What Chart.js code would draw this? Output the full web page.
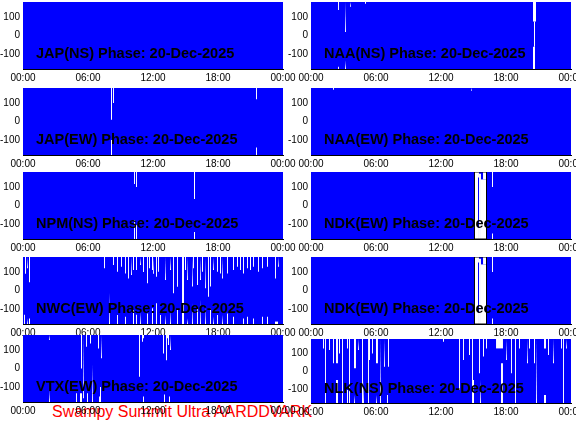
<!DOCTYPE html>
<html><head><meta charset="utf-8">
<script src="https://cdn.jsdelivr.net/npm/chart.js@4.4.1/dist/chart.umd.min.js"></script>
<style>
html,body{margin:0;padding:0;background:#fff}
body{width:576px;height:432px;position:relative;overflow:hidden;font-family:"Liberation Sans",Arial,sans-serif}
.cv{position:absolute}
#foot{position:absolute;left:52px;top:403px;color:#ff0000;font-size:16px;line-height:18px;white-space:nowrap;font-family:"Liberation Sans",Arial,sans-serif}
</style></head>
<body>
<div id="foot">Swampy Summit Ultra AARDDVARK</div>
<script>
// ---- data ----
const timeTickLabels = ['00:00','06:00','12:00','18:00','00:00'];
const phaseTicks = [-100, 0, 100];
const dayHours = [0, 24];
const phaseRange = [-180, 180];

const titles = [
  'JAP(NS) Phase: 20-Dec-2025', 'NAA(NS) Phase: 20-Dec-2025',
  'JAP(EW) Phase: 20-Dec-2025', 'NAA(EW) Phase: 20-Dec-2025',
  'NPM(NS) Phase: 20-Dec-2025', 'NDK(EW) Phase: 20-Dec-2025',
  'NWC(EW) Phase: 20-Dec-2025', 'NDK(EW) Phase: 20-Dec-2025',
  'VTX(EW) Phase: 20-Dec-2025', 'NLK(NS) Phase: 20-Dec-2025'
];

// quiet (non-noisy) intervals per panel: [startHour, endHour, lowDeg, highDeg]
const quietJAPNS = [];
const quietNAANS = [
  [2.49,2.58,137,180],[2.49,2.58,-180,-168],
  [3.14,3.23,19,180],[3.14,3.23,-180,-135],
  [3.60,3.69,155,180],[4.98,5.08,170,180],
  [20.49,20.77,75,180],[20.58,20.68,-60,75],[20.49,20.68,-180,-60]
];
const quietJAPEW = [
  [8.12,8.22,10,180],[8.31,8.40,100,180],[8.12,8.22,-180,-100],
  [21.51,21.60,120,180],[21.51,21.60,-180,-140]
];
const quietNAAEW = [[2.03,2.12,170,180],[14.77,14.86,165,180]];
const quietNPMNS = [
  [10.25,10.34,116,180],[10.25,10.34,-180,-78],
  [10.43,10.52,100,180],[10.43,10.52,-180,-105],
  [15.78,15.88,35,180],[15.78,15.88,-180,-142]
];
const quietNDKEW1 = [
  [15.05,15.42,-180,180],[15.42,15.51,150,180],[15.42,15.51,-180,-120],
  [15.51,15.69,-180,170],[15.69,16.25,-180,140],[15.88,16.25,140,180],
  [16.71,16.80,100,180],[16.71,16.80,-180,-150]
];
const quietNWCEW = [
  [0.09,0.18,-180,-130],[0.18,0.28,90,180],[0.37,0.46,120,180],[0.37,0.46,-180,-150],[0.55,0.65,45,180],[0.55,0.65,-180,-150],
  [7.48,7.57,119,180],[7.94,8.03,-180,-15],[8.31,8.40,137,180],[8.68,8.77,101,180],[8.68,8.77,-180,-132],[9.05,9.14,128,180],
  [9.42,9.51,92,180],[9.42,9.51,-180,-141],[9.69,9.78,65,180],[9.97,10.06,83,180],[10.15,10.25,110,180],[10.15,10.25,-180,-105],
  [10.43,10.52,110,180],[10.43,10.52,-180,-130],[10.80,10.89,137,180],[10.80,10.89,-180,-114],[11.08,11.17,100,180],[11.45,11.54,39,180],
  [11.45,11.54,-180,-123],[11.63,11.72,120,180],[11.91,12.0,110,180],[11.91,12.0,-180,-96],[12.0,12.09,90,180],[12.28,12.37,74,180],
  [12.28,12.37,-180,-69],[12.46,12.55,101,180],[12.65,12.74,-180,-132],[13.11,13.20,56,180],[13.11,13.20,-180,-132],[13.57,13.66,110,180],
  [13.57,13.66,-180,-105],[13.85,13.94,-15,180],[14.22,14.31,20,180],[14.22,14.31,-180,-105],[14.68,14.86,-180,180],[14.95,15.05,110,180],
  [15.14,15.23,56,180],[15.14,15.23,-180,-150],[15.60,15.69,21,180],[15.60,15.69,-180,-69],[15.69,15.78,120,180],[16.06,16.15,30,180],
  [16.06,16.15,-180,-87],[16.34,16.43,56,180],[16.34,16.43,-180,-51],[16.52,16.62,101,180],[16.80,16.89,12,180],[16.80,16.89,-180,-87],
  [17.08,17.17,-33,180],[17.26,17.35,21,180],[17.26,17.35,-180,-96],[17.54,17.63,110,180],[17.54,17.63,-180,-141],[17.91,18.0,101,180],
  [17.91,18.0,-180,-132],[18.18,18.28,92,180],[18.37,18.46,65,180],[18.37,18.46,-180,-132],[18.83,18.92,92,180],[18.83,18.92,-180,-123],
  [19.38,19.48,110,180],[19.38,19.48,-180,-141],[19.75,19.85,128,180],[20.03,20.12,110,180],[20.31,20.40,92,180],[20.31,20.40,-180,-150],
  [20.68,20.77,120,180],[20.68,20.77,-180,-141],[20.95,21.05,110,180],[21.23,21.32,128,180],[21.23,21.32,-180,-150],[21.69,21.78,101,180],
  [22.06,22.15,119,180],[22.06,22.15,-180,-141],[22.52,22.62,128,180],[22.52,22.62,-180,-141],[23.26,23.35,65,180],[23.26,23.54,-180,-167],
  [23.54,23.63,128,180]
];
const quietNDKEW2 = [
  [15.05,15.42,-180,180],[15.42,15.51,150,180],[15.42,15.51,-180,-120],
  [15.51,15.69,-180,170],[15.69,16.25,-180,140],[15.88,16.25,140,180],
  [16.71,16.80,100,180],[16.71,16.80,-180,-150]
];
const quietVTXEW = [
  [2.40,2.49,153,180],[2.40,2.49,-180,-115],[4.89,4.98,-180,-133],[5.35,5.45,0,180],[5.26,5.45,-180,-133],[5.54,5.63,-160,180],
  [5.82,5.91,117,180],[5.91,6.0,-180,-133],[6.18,6.28,135,180],[6.37,6.46,-180,20],[6.92,7.02,108,180],[7.02,7.11,-180,-150],
  [7.20,7.29,55,180],[7.11,7.20,-180,-100],[10.71,10.80,-44,180],[10.98,11.08,144,180],[11.08,11.17,162,180],[11.08,11.17,-180,-150],
  [12.92,13.02,81,180],[13.20,13.29,45,180],[13.29,13.38,162,180],[13.38,13.48,126,180],[13.57,13.66,99,180],
  [13.02,13.11,-180,-140],[13.48,13.57,-180,-150]
];
const quietNLKNS = [
  [1.11,1.20,127,180],[1.29,1.38,-180,180],[1.66,1.75,118,180],[2.03,2.12,43,180],[2.31,2.49,43,180],[2.31,2.49,-180,-51],
  [2.58,2.68,99,180],[2.86,2.95,-180,180],[3.32,3.42,127,180],[3.32,3.42,-180,-107],[3.51,3.60,-180,180],[3.97,4.15,15,180],
  [3.97,4.06,-180,-135],[4.34,4.43,118,180],[4.71,4.80,-180,180],[4.80,4.89,-180,-51],[5.26,5.35,-180,180],[5.35,5.45,62,180],
  [5.63,5.72,99,180],[6.0,6.18,43,180],[6.0,6.09,-180,-135],[6.37,6.46,-180,180],[6.74,6.83,24,180],[7.11,7.20,24,180],
  [7.02,7.11,-180,-135],[12.18,12.28,165,180],[13.66,13.75,-107,180],[14.03,14.12,62,180],[14.58,14.68,90,180],[14.86,14.95,-180,180],
  [14.95,15.05,-180,-51],[15.51,15.60,-13,180],[15.60,15.69,-180,-51],[15.88,15.97,81,180],[16.15,16.25,127,180],[17.08,17.72,127,180],
  [17.54,17.72,-180,43],[18.0,18.09,62,180],[18.46,18.55,-13,180],[18.83,18.92,-180,180],[19.20,19.29,127,180],[19.94,20.03,43,180],
  [20.12,20.22,127,180],[20.58,20.68,43,180],[20.77,20.86,-180,180],[21.51,21.69,127,180],[21.51,21.69,-180,-135],[21.88,21.97,90,180],
  [22.34,22.43,43,180],[23.08,23.17,127,180],[23.26,23.35,-180,180],[23.54,23.63,127,180]
];

// black phase trace around the NDK disturbed interval: [hour, deg]
const traceNDK = [[15.09,-180],[15.09,180],[16.20,180],[16.20,-180],[15.09,-180]];

const panelQuiet = [quietJAPNS, quietNAANS, quietJAPEW, quietNAAEW, quietNPMNS, quietNDKEW1, quietNWCEW, quietNDKEW2, quietVTXEW, quietNLKNS];
const panelTrace = [null, null, null, null, null, traceNDK, null, traceNDK, null, null];

// ---- layout ----
const panelTops = [2, 2, 88, 88, 172, 172, 257, 257, 335, 339];
const panelHeights = [67, 67, 67, 67, 67, 67, 67, 67, 67, 64];
const PLOT_W = 260, PAD_T = 5, AX_H = 20;

const titlePlugin = {
  id: 'panelTitle',
  afterDatasetsDraw(chart, args, opts) {
    const ctx = chart.ctx, a = chart.chartArea;
    ctx.save();
    ctx.font = 'bold 14.5px "Liberation Sans", Arial, sans-serif';
    ctx.fillStyle = '#000';
    ctx.textBaseline = 'middle';
    ctx.textAlign = 'left';
    ctx.fillText(opts.text, a.left + 13, a.top + 52 * (a.bottom - a.top) / 67);
    ctx.restore();
  }
};

function makePanel(i) {
  const col = i % 2;
  const cv = document.createElement('canvas');
  const left = col === 0 ? 0 : 286;
  const w = col === 0 ? 300 : 290;
  const yAxisW = col === 0 ? 23 : 25;
  const h = PAD_T + panelHeights[i] + AX_H;
  cv.className = 'cv';
  cv.style.left = left + 'px';
  cv.style.top = (panelTops[i] - PAD_T) + 'px';
  cv.style.width = w + 'px'; cv.style.height = h + 'px';
  cv.width = w; cv.height = h;
  document.body.appendChild(cv);

  const datasets = [];
  if (panelTrace[i]) {
    datasets.push({
      data: panelTrace[i].map(p => ({x: p[0], y: p[1]})),
      borderColor: '#000000', borderWidth: 1, fill: false,
      pointRadius: 0, tension: 0, order: -1
    });
  }
  panelQuiet[i].forEach(g => {
    datasets.push({
      data: [{x: g[0], y: g[3]}, {x: g[1], y: g[3]}],
      fill: {value: g[2]}, backgroundColor: '#ffffff', borderWidth: 0,
      pointRadius: 0, order: 0
    });
  });
  datasets.push({
    data: [{x: dayHours[0], y: phaseRange[1]}, {x: dayHours[1], y: phaseRange[1]}],
    fill: {value: phaseRange[0]}, backgroundColor: '#0000ff', borderWidth: 0,
    pointRadius: 0, order: 10
  });

  new Chart(cv, {
    type: 'line',
    data: {datasets},
    options: {
      responsive: false, animation: false, events: [],
      layout: {padding: {top: PAD_T, right: w - yAxisW - PLOT_W, bottom: 0, left: 0}},
      plugins: {legend: {display: false}, tooltip: {enabled: false}, panelTitle: {text: titles[i]}},
      scales: {
        x: {
          type: 'linear', min: dayHours[0], max: dayHours[1],
          grid: {display: false, drawTicks: false},
          border: {display: true, color: '#000', width: 1},
          ticks: {stepSize: 6, padding: 3, color: '#000', maxRotation: 0, autoSkip: false,
            font: {size: 10, family: '"Liberation Sans", Arial, sans-serif'},
            callback: (v) => timeTickLabels[Math.round(v / 6)]},
          afterFit(s) { s.height = AX_H; s.paddingLeft = 0; s.paddingRight = 0; }
        },
        y: {
          min: phaseRange[0], max: phaseRange[1],
          grid: {display: false, drawTicks: false},
          border: {display: false},
          afterBuildTicks(s) { s.ticks = phaseTicks.map(v => ({value: v})); },
          ticks: {padding: 3, color: '#000',
            font: {size: 10, family: '"Liberation Sans", Arial, sans-serif'}},
          afterFit(s) { s.width = yAxisW; s.paddingTop = 0; s.paddingBottom = 0; }
        }
      }
    },
    plugins: [titlePlugin]
  });
}
for (let i = 0; i < 10; i++) makePanel(i);
</script>
</body></html>
